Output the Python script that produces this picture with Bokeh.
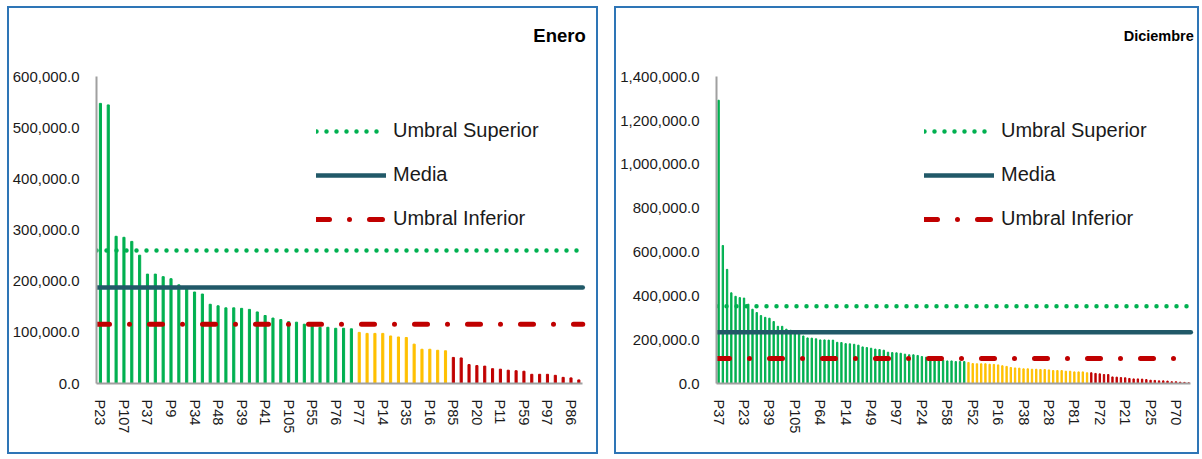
from bokeh.plotting import figure
from bokeh.models import FixedTicker, NumeralTickFormatter, Range1d, Label
from bokeh.layouts import row
from bokeh.embed import file_html
from bokeh.resources import INLINE

FONT = "Liberation Sans"
GREEN = "#00B050"
YELLOW = "#FFC000"
RED = "#C00000"
TEAL = "#215968"
BLUE = "#2E75B6"

# ---------------- Enero ----------------
enero_labels = ["P23", "P107", "P37", "P9", "P34", "P48", "P39", "P41", "P105", "P55", "P76",
                "P77", "P14", "P35", "P16", "P85", "P20", "P11", "P59", "P97", "P86"]
enero_values = [548000, 545000, 288000, 286000, 278000, 251000, 214000, 214000, 209000, 205000,
                193000, 185000, 179000, 175000, 155000, 152000, 148000, 148000, 147000, 145000,
                140000, 133000, 128000, 125000, 121000, 120000, 116000, 113000, 110000, 110000,
                108000, 108000, 107000,
                100000, 98000, 98000, 98000, 93000, 91000, 90000, 77000, 67000, 67000, 65000, 64000,
                51000, 50000, 37000, 35000, 34000, 29000, 28000, 26000, 25000, 24000, 18000, 18000,
                18000, 16000, 12000, 11000, 7000]
enero_groups = [33, 12, 17]          # verde, amarillo, rojo
enero_superior = 260000
enero_media = 188000
enero_inferior = 116000

# ---------------- Diciembre ----------------
dic_labels = ["P37", "P23", "P39", "P105", "P64", "P14", "P49", "P97", "P24", "P58", "P52",
              "P16", "P38", "P28", "P81", "P72", "P21", "P25", "P70"]
dic_values = [1293000, 630000, 521000, 414000, 398000, 392000, 390000, 362000, 339000, 324000,
              310000, 302000, 298000, 283000, 261000, 261000, 248000, 243000, 236000, 233000,
              217000, 208000, 207000, 204000, 199000, 199000, 198000, 198000, 188000, 187000,
              182000, 181000, 179000, 175000, 167000, 164000, 161000, 157000, 155000, 152000,
              143000, 141000, 140000, 138000, 134000, 131000, 131000, 128000, 123000, 120000,
              119000, 116000, 116000, 106000, 103000, 103000, 100000, 100000, 100000,
              96000, 91000, 90000, 90000, 90000, 88000, 87000, 85000, 81000, 78000,
              73000, 71000, 70000, 67000, 67000, 65000, 65000, 64000, 64000, 62000,
              59000, 59000, 59000, 56000, 56000, 53000, 53000, 53000, 49000,
              49000, 46000, 44000, 41000, 41000, 30000, 29000, 27000, 26000, 23000,
              21000, 21000, 20000, 18000, 15000, 14000, 12000, 12000, 11000, 8000,
              8000, 6000, 5000, 3000]
dic_groups = [59, 29, 24]
dic_superior = 353000
dic_media = 234000
dic_inferior = 114000

H = 448
BORDER_TOP = 8
BORDER_BOTTOM = 73


def make_chart(title, labels, values, groups, sup, media, inf, ymax, ystep,
               width, min_left, bars_px, legend_x, bar_w, title_size):
    n = len(values)
    idx = list(range(n))
    colors = [GREEN] * groups[0] + [YELLOW] * groups[1] + [RED] * groups[2]
    label_step = 3 if n < 80 else 6
    frame_w = width - 4 - min_left
    frame_h = H - BORDER_TOP - BORDER_BOTTOM
    x_end = -0.5 + n * frame_w / bars_px
    y_end = ymax * frame_h / 306.7
    p = figure(width=width, height=H, output_backend="svg", toolbar_location=None,
               x_range=Range1d(-0.5, x_end), y_range=Range1d(0, y_end),
               min_border_left=min_left, min_border_right=0,
               min_border_top=BORDER_TOP, min_border_bottom=BORDER_BOTTOM,
               styles={"border": "2px solid " + BLUE})
    p.vbar(x=idx, top=values, width=bar_w, color=colors)
    xs = [-0.5, n - 0.5]
    p.line(xs, [sup, sup], line_color=GREEN, line_width=4.5, line_dash="0 10",
           line_cap="round", legend_label="Umbral Superior")
    p.line(xs, [media, media], line_color=TEAL, line_width=4.5, line_cap="round",
           legend_label="Media")
    p.line(xs, [inf, inf], line_color=RED, line_width=5, line_dash="13 20 0 20",
           line_cap="round", legend_label="Umbral Inferior")

    p.grid.visible = False
    p.outline_line_color = None

    ticks = list(range(0, n, label_step))
    p.xaxis.ticker = FixedTicker(ticks=ticks)
    p.xaxis.major_label_overrides = {t: lab for t, lab in zip(ticks, labels)}
    p.xaxis.major_label_orientation = "vertical"
    p.xaxis.major_label_standoff = 10
    p.xaxis.bounds = (-0.5, n - 0.5)
    p.yaxis.ticker = FixedTicker(ticks=list(range(0, ymax + 1, ystep)))
    p.yaxis.formatter = NumeralTickFormatter(format="0,0.0")
    p.yaxis.major_label_standoff = 11
    p.yaxis.bounds = (0, ymax)
    for ax in (p.xaxis, p.yaxis):
        ax.major_tick_line_color = None
        ax.minor_tick_line_color = None
        ax.axis_line_color = "#A0A0A0"
        ax.axis_line_width = 2
        ax.major_label_text_font = FONT
        ax.major_label_text_font_size = "15px"
        ax.major_label_text_color = "#1A1A1A"
    p.xaxis.major_label_text_font_size = "14.5px"

    lg = p.legend[0]
    lg.location = (legend_x, 153)
    lg.border_line_color = None
    lg.background_fill_alpha = 0
    lg.glyph_width = 70
    lg.glyph_height = 20
    lg.label_height = 20
    lg.spacing = 21
    lg.padding = 0
    lg.margin = 0
    lg.label_standoff = 7
    lg.label_text_font = FONT
    lg.label_text_font_size = "20px"
    lg.label_text_color = "#1A1A1A"

    p.add_layout(Label(x=n - 0.5, y=ymax, x_offset=3, y_offset=41, text=title,
                       text_align="right", text_baseline="middle", text_font=FONT,
                       text_font_style="bold", text_font_size=title_size,
                       text_color="#000000"))
    return p


p1 = make_chart("Enero", enero_labels, enero_values, enero_groups, enero_superior,
                enero_media, enero_inferior, 600000, 100000,
                width=591, min_left=87, bars_px=482.4, legend_x=220, bar_w=0.27,
                title_size="18.5px")
p2 = make_chart("Diciembre", dic_labels, dic_values, dic_groups, dic_superior,
                dic_media, dic_inferior, 1400000, 200000,
                width=585, min_left=100, bars_px=470.4, legend_x=208, bar_w=0.32,
                title_size="14.5px")

layout = row(p1, p2, spacing=16, margin=(6, 0, 0, 7))
open("out.html", "w").write(file_html(layout, INLINE))
